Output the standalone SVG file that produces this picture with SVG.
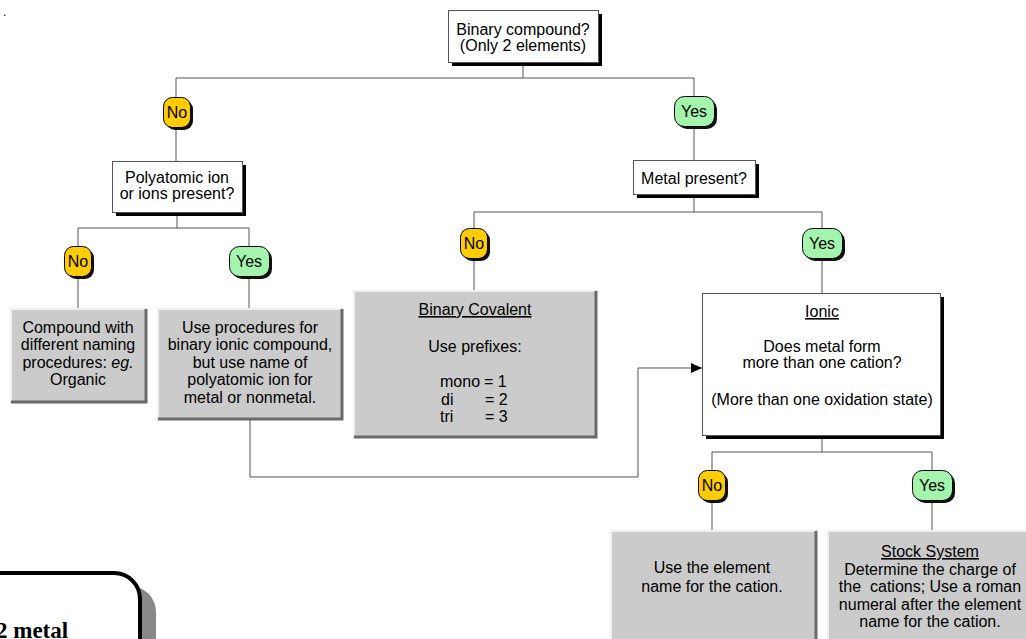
<svg xmlns="http://www.w3.org/2000/svg" width="1026" height="639" viewBox="0 0 1026 639">
<style>
.t{font-family:"Liberation Sans",Arial,sans-serif;font-size:16px;fill:#000;text-anchor:middle}
.u{text-decoration:underline}
.conn{stroke:#555;stroke-width:1;fill:none}
.wbox{fill:#fff;stroke:#555;stroke-width:1}
.sh{fill:#000}
.gbox{fill:#cbcbcb}
.hl{stroke:#f0f0f0;stroke-width:2;fill:none}
.dk{stroke:#6a6a6a;stroke-width:3;fill:none}
.no{fill:#ffcc00;stroke:#000;stroke-width:1}
.yes{fill:#a3f5ad;stroke:#000;stroke-width:1}
.bsh{fill:#111}
</style>
<defs>
<marker id="arr" markerWidth="12" markerHeight="10" refX="11" refY="5" orient="auto" markerUnits="userSpaceOnUse">
<path d="M0,0 L11,5 L0,10 Z" fill="#000"/>
</marker>
</defs>
<rect width="1026" height="639" fill="#fff"/>
<text x="3" y="16" style="font-family:'Liberation Sans',Arial,sans-serif;font-size:12px">.</text>

<g id="connectors">
<path class="conn" d="M523,62 V78 M176,78 H694 M176,78 V97 M176,127 V161 M694,78 V96 M694,126 V160"/>
<path class="conn" d="M177,212 V228 M78,228 H249 M78,228 V246 M78,276 V308 M249,228 V246 M249,276 V308"/>
<path class="conn" d="M694,194 V212 M474,212 H822 M474,212 V228 M474,258 V290 M822,212 V228 M822,258 V293"/>
<path class="conn" d="M822,435 V452 M712,452 H932 M712,452 V470 M712,501 V530 M932,452 V470 M932,501 V530"/>
<path class="conn" d="M250,420 V477 H638 V368 H702" marker-end="url(#arr)"/>
</g>

<g id="n-binary">
<rect class="sh" x="452" y="14" width="150" height="52"/>
<rect class="wbox" x="448.5" y="10.5" width="150" height="52"/>
<text class="t" x="523" y="35">Binary compound?</text>
<text class="t" x="523" y="51">(Only 2 elements)</text>
</g>

<g id="b-no1">
<rect class="bsh" x="166" y="100" width="27" height="30" rx="9"/>
<rect class="no" x="163.5" y="97.5" width="27" height="30" rx="9"/>
<text class="t" x="177" y="118">No</text>
</g>
<g id="b-yes1">
<rect class="bsh" x="677" y="99" width="40" height="30" rx="10"/>
<rect class="yes" x="674.5" y="96.5" width="40" height="30" rx="10"/>
<text class="t" x="694" y="117">Yes</text>
</g>

<g id="n-poly">
<rect class="sh" x="116" y="165" width="130" height="51"/>
<rect class="wbox" x="112.5" y="161.5" width="130" height="51"/>
<text class="t" x="177" y="183">Polyatomic ion</text>
<text class="t" x="177" y="199">or ions present?</text>
</g>

<g id="n-metal">
<rect class="sh" x="637" y="164" width="122" height="34"/>
<rect class="wbox" x="633.5" y="160.5" width="122" height="34"/>
<text class="t" x="694" y="184">Metal present?</text>
</g>

<g id="b-no2">
<rect class="bsh" x="67" y="249" width="27" height="30" rx="9"/>
<rect class="no" x="64.5" y="246.5" width="27" height="30" rx="9"/>
<text class="t" x="78" y="267">No</text>
</g>
<g id="b-yes2">
<rect class="bsh" x="232" y="249" width="40" height="30" rx="10"/>
<rect class="yes" x="229.5" y="246.5" width="40" height="30" rx="10"/>
<text class="t" x="249" y="267">Yes</text>
</g>
<g id="b-no3">
<rect class="bsh" x="463" y="231" width="27" height="30" rx="9"/>
<rect class="no" x="460.5" y="228.5" width="27" height="30" rx="9"/>
<text class="t" x="474" y="249">No</text>
</g>
<g id="b-yes3">
<rect class="bsh" x="805" y="231" width="40" height="30" rx="10"/>
<rect class="yes" x="802.5" y="228.5" width="40" height="30" rx="10"/>
<text class="t" x="822" y="249">Yes</text>
</g>

<g id="n-compound">
<rect class="gbox" x="10" y="308" width="137" height="95"/>
<path class="hl" d="M11,402 V309 H146"/>
<path class="dk" d="M11,402 H146 V309"/>
<text class="t" x="78" y="333">Compound with</text>
<text class="t" x="78" y="350">different naming</text>
<text class="t" x="78" y="368">procedures: <tspan font-style="italic">eg.</tspan></text>
<text class="t" x="78" y="385">Organic</text>
</g>

<g id="n-useproc">
<rect class="gbox" x="157" y="308" width="186" height="112"/>
<path class="hl" d="M158,419 V309 H342"/>
<path class="dk" d="M158,419 H342 V309"/>
<text class="t" x="250" y="333">Use procedures for</text>
<text class="t" x="250" y="350">binary ionic compound,</text>
<text class="t" x="250" y="368">but use name of</text>
<text class="t" x="250" y="385">polyatomic ion for</text>
<text class="t" x="250" y="403">metal or nonmetal.</text>
</g>

<g id="n-covalent">
<rect class="gbox" x="353" y="290" width="244" height="148"/>
<path class="hl" d="M354,437 V291 H596"/>
<path class="dk" d="M354,437 H596 V291"/>
<text class="t u" x="475" y="315">Binary Covalent</text>
<text class="t" x="475" y="352">Use prefixes:</text>
<text class="t" style="text-anchor:start" y="387"><tspan x="440">mono</tspan><tspan x="484">= 1</tspan></text>
<text class="t" style="text-anchor:start" y="405"><tspan x="441">di</tspan><tspan x="485">= 2</tspan></text>
<text class="t" style="text-anchor:start" y="422"><tspan x="440">tri</tspan><tspan x="485">= 3</tspan></text>
</g>

<g id="n-ionic">
<rect class="sh" x="706" y="297" width="238" height="142"/>
<rect class="wbox" x="702.5" y="293.5" width="238" height="142"/>
<text class="t u" x="822" y="317">Ionic</text>
<text class="t" x="822" y="352">Does metal form</text>
<text class="t" x="822" y="368">more than one cation?</text>
<text class="t" x="822" y="405">(More than one oxidation state)</text>
</g>

<g id="b-no4">
<rect class="bsh" x="701" y="473" width="27" height="30" rx="9"/>
<rect class="no" x="698.5" y="470.5" width="27" height="30" rx="9"/>
<text class="t" x="712" y="491">No</text>
</g>
<g id="b-yes4">
<rect class="bsh" x="915" y="473" width="40" height="30" rx="10"/>
<rect class="yes" x="912.5" y="470.5" width="40" height="30" rx="10"/>
<text class="t" x="932" y="491">Yes</text>
</g>

<g id="n-element">
<rect class="gbox" x="610" y="530" width="207" height="115"/>
<path class="hl" d="M611,645 V531 H816"/>
<path class="dk" d="M816,531 V645"/>
<text class="t" x="712" y="573">Use the element</text>
<text class="t" x="712" y="592">name for the cation.</text>
</g>

<g id="n-stock">
<rect class="gbox" x="827" y="530" width="205" height="115"/>
<path class="hl" d="M828,645 V531 H1030"/>
<text class="t u" x="930" y="557">Stock System</text>
<text class="t" x="930" y="575">Determine the charge of</text>
<text class="t" x="930" y="592" xml:space="preserve">the  cations; Use a roman</text>
<text class="t" x="930" y="610">numeral after the element</text>
<text class="t" x="930" y="627">name for the cation.</text>
</g>

<g id="n-corner">
<rect x="-16" y="586" width="172" height="100" rx="26" fill="#888"/>
<rect x="-30" y="573" width="170" height="100" rx="26" fill="#fff" stroke="#000" stroke-width="4"/>
<text x="-4" y="638" style="font-family:'Liberation Serif','Times New Roman',serif;font-size:23px;font-weight:bold">2 metal</text>
</g>
</svg>
